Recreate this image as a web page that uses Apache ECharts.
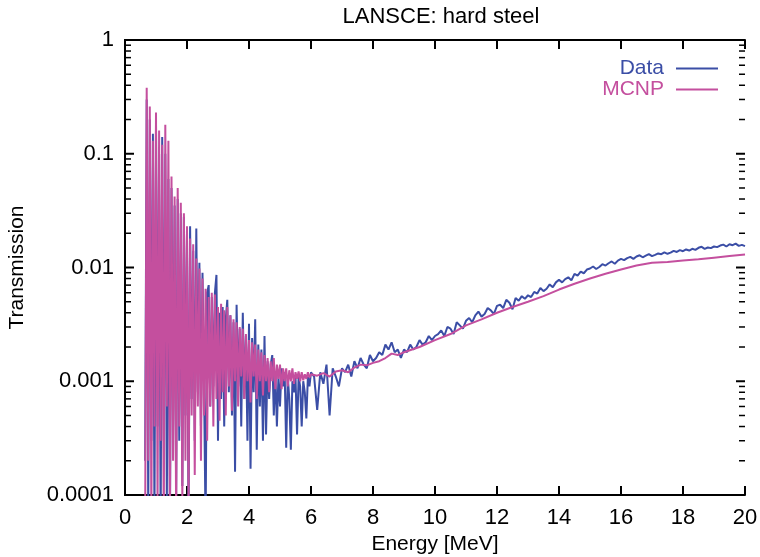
<!DOCTYPE html>
<html>
<head>
<meta charset="utf-8">
<script src="https://cdn.jsdelivr.net/npm/echarts@6/dist/echarts.min.js"></script>
<style>html,body{margin:0;padding:0;background:#fff;overflow:hidden;}#chart{width:760px;height:557px;}</style>
</head>
<body>
<div id="chart"></div>
<script>
// ---- Data ----
const energyNoisy = [
  0.65,0.70,0.75,0.80,0.85,0.90,0.95,1.00,1.05,1.10,
  1.15,1.20,1.25,1.30,1.35,1.40,1.45,1.50,1.55,1.60,
  1.65,1.70,1.75,1.80,1.85,1.90,1.95,2.00,2.05,2.10,
  2.15,2.20,2.25,2.30,2.35,2.40,2.45,2.50,2.55,2.60,
  2.65,2.70,2.75,2.80,2.85,2.90,2.95,3.00,3.05,3.10,
  3.15,3.20,3.25,3.30,3.35,3.40,3.45,3.50,3.55,3.60,
  3.65,3.70,3.75,3.80,3.85,3.90,3.95,4.00,4.05,4.10,
  4.15,4.20,4.25,4.30,4.35,4.40,4.45,4.50,4.55,4.60,
  4.65,4.70,4.75,4.80,4.85,4.90,4.95,5.00,5.05,5.10,
  5.15,5.20,5.25,5.30,5.35,5.40,5.45,5.50,5.55,5.60,
  5.65,5.70,5.75,5.80,5.85,5.90,5.95,6.00
];
const dataNoisy = [
  2e-4,0.3,7e-5,0.2,3e-4,0.15,6e-5,0.18,4e-4,0.1,
  5e-5,0.14,3e-4,0.1,8e-5,0.06,5e-5,0.05,4e-4,0.035,
  1e-4,0.04,3e-4,0.03,1.2e-4,0.028,5e-4,0.02,5e-5,0.023,
  7e-4,0.014,3e-4,0.022,8e-4,0.011,4e-4,0.009,9e-4,5e-5,
  0.006,0.007,6e-4,0.0055,9e-4,0.006,0.0086,3e-4,0.004,7e-4,
  0.0045,4e-4,0.0035,0.0052,8e-4,0.0038,5e-4,0.0033,1.6e-4,0.0047,
  9e-4,0.0029,4e-4,0.004,7e-4,0.0025,3e-4,0.0032,1.7e-4,0.0024,
  8e-4,0.0035,2.5e-4,0.0021,6e-4,0.0019,3e-4,0.0025,3.4e-4,0.0015,
  7e-4,0.0014,0.0017,5e-4,0.0012,4e-4,0.0011,6e-4,0.0013,9e-4,
  0.0012,2.6e-4,0.0011,7e-4,2.5e-4,0.001,8e-4,0.0011,3.4e-4,0.0011,
  9e-4,4e-4,0.001,8e-4,4.7e-4,0.0011,9e-4,0.0012
];
const mcnpNoisy = [
  5e-5,0.38,2e-4,0.26,6e-5,0.13,4e-4,0.23,8e-5,0.16,
  3e-4,0.12,5e-5,0.18,6e-4,0.13,7e-5,0.063,2e-4,0.042,
  6e-5,0.05,4e-4,0.037,9e-5,0.03,2e-4,0.023,8e-5,0.018,
  5e-4,0.016,1.5e-4,0.012,6e-4,0.0098,2e-4,0.008,5e-4,0.0065,
  3e-4,0.0055,6e-4,0.006,4e-4,0.0058,7e-4,0.0045,4.5e-4,0.0048,
  8e-4,0.0042,5e-4,0.0045,9e-4,0.0038,5.5e-4,0.0035,1e-3,0.0033,
  6e-4,0.003,1.1e-3,0.0029,7e-4,0.0026,1e-3,0.0023,6.5e-4,0.0022,
  1.1e-3,0.0021,7e-4,0.0019,1e-3,0.0018,7.5e-4,0.0017,1e-3,0.0016,
  8e-4,0.0015,1e-3,0.0016,8.5e-4,0.0014,1.05e-3,0.0014,8.5e-4,0.0013,
  1e-3,0.0013,9e-4,0.00125,1e-3,0.0013,9.5e-4,0.0012,1.05e-3,0.00122,
  1e-3,0.0012,1.02e-3,0.00115,1.05e-3,0.0012,1.08e-3,0.00115
];
const energyTail = [
  6.1,6.2,6.3,6.4,6.5,6.6,6.7,6.8,6.9,7.0,
  7.1,7.2,7.3,7.4,7.5,7.6,7.7,7.8,7.9,8.0,
  8.1,8.2,8.3,8.4,8.5,8.6,8.7,8.8,8.9,9.0,
  9.1,9.2,9.3,9.4,9.5,9.6,9.7,9.8,9.9,10.0,
  10.1,10.2,10.3,10.4,10.5,10.6,10.7,10.8,10.9,11.0,
  11.1,11.2,11.3,11.4,11.5,11.6,11.7,11.8,11.9,12.0,
  12.1,12.2,12.3,12.4,12.5,12.6,12.7,12.8,12.9,13.0,
  13.1,13.2,13.3,13.4,13.5,13.6,13.7,13.8,13.9,14.0,
  14.1,14.2,14.3,14.4,14.5,14.6,14.7,14.8,14.9,15.0,
  15.1,15.2,15.3,15.4,15.5,15.6,15.7,15.8,15.9,16.0,
  16.1,16.2,16.3,16.4,16.5,16.6,16.7,16.8,16.9,17.0,
  17.1,17.2,17.3,17.4,17.5,17.6,17.7,17.8,17.9,18.0,
  18.1,18.2,18.3,18.4,18.5,18.6,18.7,18.8,18.9,19.0,
  19.1,19.2,19.3,19.4,19.5,19.6,19.7,19.8,19.9,20.0
];
const dataTail = [
  0.0011,0.00056,0.0012,0.00095,0.0014,0.0005,0.0013,0.0011,0.0009,0.0013,
  0.0012,0.0014,0.0011,0.0015,0.0013,0.0016,0.0014,0.0013,0.0017,0.0015,
  0.0016,0.0018,0.0017,0.0021,0.0019,0.0022,0.0018,0.0019,0.0016,0.0019,
  0.0018,0.0021,0.0019,0.002,0.0023,0.0021,0.0022,0.0025,0.0023,0.0025,
  0.0026,0.0028,0.0025,0.003,0.0029,0.0026,0.0033,0.0031,0.0029,0.0034,
  0.0036,0.0033,0.0038,0.0041,0.0037,0.0039,0.0044,0.0042,0.0039,0.0046,
  0.0047,0.0044,0.0052,0.0049,0.0043,0.0054,0.0051,0.0056,0.0053,0.0057,
  0.0055,0.0061,0.0059,0.0066,0.0062,0.0065,0.0071,0.0067,0.0074,0.0078,
  0.0074,0.0079,0.0082,0.0077,0.0088,0.0085,0.0092,0.0089,0.0096,0.0098,
  0.0102,0.0097,0.0101,0.0107,0.0104,0.0109,0.0113,0.0108,0.0115,0.0119,
  0.0116,0.0121,0.0124,0.0119,0.0125,0.0128,0.0123,0.0127,0.0131,0.0126,
  0.0129,0.0133,0.0131,0.0136,0.0132,0.0135,0.014,0.0137,0.0142,0.0139,
  0.0144,0.0141,0.0146,0.0143,0.0149,0.0152,0.0146,0.015,0.0148,0.0153,
  0.0151,0.0156,0.0159,0.0153,0.016,0.0157,0.0162,0.0155,0.0158,0.0154
];
const energyMcnpTail = [6.2,6.4,6.6,6.8,7.0,7.2,7.4,7.6,7.8,8.0,8.2,8.4,8.6,8.8,9.0,
  9.5,10.0,10.5,11.0,11.5,12.0,12.5,13.0,13.5,14.0,14.5,15.0,15.5,16.0,16.5,17.0,
  17.5,18.0,18.5,19.0,19.5,20.0];
const mcnpTail = [0.00112,0.00118,0.0011,0.00122,0.00125,0.0012,0.00132,0.0014,0.00138,0.00145,
  0.0015,0.0016,0.00175,0.0017,0.0018,
  0.002,0.0023,0.0026,0.0031,0.0035,0.004,0.0045,0.005,0.0056,0.0064,0.0072,0.008,
  0.0088,0.0096,0.0104,0.011,0.0112,0.0115,0.0118,0.0122,0.0126,0.013];

const xTickValues = [0,2,4,6,8,10,12,14,16,18,20];
const yTickValues = [0.0001,0.001,0.01,0.1,1];
const yTickLabels = ['0.0001','0.001','0.01','0.1','1'];
const seriesNames = ['Data','MCNP'];
const titleText = 'LANSCE: hard steel';
const xName = 'Energy [MeV]';
const yName = 'Transmission';

// ---- Build ----
const BLUE = '#3b4ea6';
const MAGENTA = '#c44f9e';
const FONT = 'Liberation Sans';
const FS = 22;

const dataPoints = energyNoisy.map((e,i)=>[e,dataNoisy[i]])
  .concat(energyTail.map((e,i)=>[e,dataTail[i]]));
const mcnpPoints = energyNoisy.map((e,i)=>[e,mcnpNoisy[i]])
  .concat(energyMcnpTail.map((e,i)=>[e,mcnpTail[i]]));

// y ticks: [x(unused), value, isMajor]
const yTickMarks = [];
for (let d = -4; d <= 0; d++) {
  yTickMarks.push([10, Math.pow(10,d), 1]);
  if (d < 0) for (let k = 2; k <= 9; k++) yTickMarks.push([10, k*Math.pow(10,d), 0]);
}

function yFmt(v){
  const i = yTickValues.findIndex(t => Math.abs(Math.log10(t) - Math.log10(v)) < 1e-6);
  return i >= 0 ? yTickLabels[i] : '';
}

const mkLine = () => ({show:true, lineStyle:{color:'#000', width:2}});
const mkTick = () => ({show:true, inside:true, length:9, lineStyle:{color:'#000', width:2}});

const chart = echarts.init(document.getElementById('chart'), null, {renderer:'canvas'});
chart.setOption({
  backgroundColor:'#fff',
  animation:false,
  title:{text:titleText, left:436, top:1, textAlign:'center',
    textStyle:{fontFamily:FONT, fontSize:FS, fontWeight:'normal', color:'#000'}},
  legend:{
    orient:'vertical', right:37, top:53, align:'right', icon:'rect', itemWidth:42, itemHeight:2, itemGap:0,
    textStyle:{fontFamily:FONT, fontSize:21, padding:[0,7,0,0]},
    data:[{name:seriesNames[0], textStyle:{color:BLUE}}, {name:seriesNames[1], textStyle:{color:MAGENTA}}]
  },
  grid:{left:125, right:15, top:40, bottom:62, containLabel:false, outerBoundsMode:'none'},
  xAxis:[
    {type:'value', min:0, max:20, interval:2, position:'bottom',
     name:xName, nameLocation:'middle', nameGap:32,
     nameTextStyle:{fontFamily:FONT, fontSize:21, color:'#000'},
     axisLine:mkLine(), axisTick:mkTick(), splitLine:{show:false},
     axisLabel:{fontFamily:FONT, fontSize:FS, color:'#000', margin:12,
       formatter:v => xTickValues.includes(v) ? String(v) : ''}},
    {type:'value', min:0, max:20, interval:2, position:'top',
     axisLine:mkLine(), axisTick:mkTick(), splitLine:{show:false}, axisLabel:{show:false}}
  ],
  yAxis:[
    {type:'log', logBase:10, min:0.0001, max:1, position:'left',
     name:yName, nameLocation:'middle', nameGap:97, nameRotate:90,
     nameTextStyle:{fontFamily:FONT, fontSize:21, color:'#000'},
     axisLine:mkLine(), axisTick:{show:false}, splitLine:{show:false},
     axisLabel:{fontFamily:FONT, fontSize:FS, color:'#000', margin:11, formatter:yFmt}},
    {type:'log', logBase:10, min:0.0001, max:1, position:'right',
     axisLine:mkLine(), axisTick:{show:false}, splitLine:{show:false}, axisLabel:{show:false}}
  ],
  series:[
    {name:seriesNames[0], type:'line', data:dataPoints, symbol:'none', clip:true,
     lineStyle:{color:BLUE, width:2}, itemStyle:{color:BLUE}, z:2},
    {name:seriesNames[1], type:'line', data:mcnpPoints, symbol:'none', clip:true,
     lineStyle:{color:MAGENTA, width:2}, itemStyle:{color:MAGENTA}, z:3},
    {type:'custom', silent:true, data:yTickMarks, clip:false, z:10, zlevel:1,
     renderItem:(params, api) => {
       const cs = params.coordSys;
       const y = api.coord([api.value(0), api.value(1)])[1];
       const major = api.value(2) === 1;
       const len = major ? 9 : 6;
       const h = major ? 2 : 1.5;
       return {type:'group', children:[
         {type:'rect', shape:{x:cs.x, y:y-h/2, width:len, height:h}, style:{fill:'#000'}},
         {type:'rect', shape:{x:cs.x+cs.width-len, y:y-h/2, width:len, height:h}, style:{fill:'#000'}}
       ]};
     }}
  ]
});
</script>
</body>
</html>
